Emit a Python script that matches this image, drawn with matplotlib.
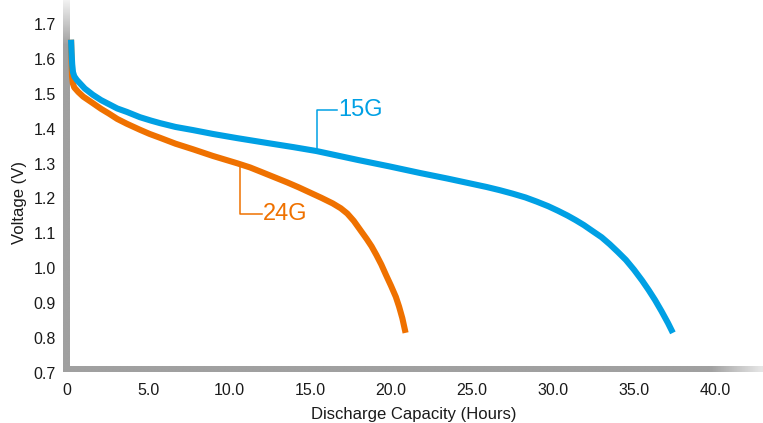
import numpy as np
import matplotlib
matplotlib.use('Agg')
import matplotlib.pyplot as plt

plt.rcParams['font.family'] = ['Liberation Sans', 'DejaVu Sans']

# discharge curves (hours, volts)
hours_15g = [0.25, 0.28, 0.32, 0.37, 0.45, 0.6, 0.8, 1.1, 1.6, 2.1, 2.6, 3.1, 3.7, 4.5, 5.2, 5.74,
             6.7, 7.78, 9.0, 10.5, 12.5, 14.0, 15.4, 16.7, 18.0, 19.9, 21.8, 23.5, 25.9, 26.7,
             27.5, 28.3, 29.0, 29.7, 30.3, 30.9, 31.4, 31.9, 32.4, 33.0, 33.5, 34.0, 34.5, 35.0,
             35.5, 35.9, 36.3, 36.7, 37.1, 37.4]
volts_15g = [1.655, 1.62, 1.585, 1.562, 1.55, 1.54, 1.53, 1.515, 1.497, 1.482, 1.47, 1.458, 1.448,
             1.433, 1.423, 1.416, 1.405, 1.396, 1.385, 1.373, 1.358, 1.347, 1.336, 1.323, 1.31,
             1.292, 1.273, 1.257, 1.233, 1.224, 1.214, 1.203, 1.191, 1.178, 1.165, 1.151, 1.138,
             1.124, 1.108, 1.089, 1.069, 1.047, 1.024, 0.996, 0.965, 0.938, 0.909, 0.877, 0.843,
             0.815]

hours_24g = [0.25, 0.28, 0.31, 0.36, 0.45, 0.7, 1.0, 1.6, 2.1, 2.6, 3.1, 3.7, 4.5, 5.1, 5.74,
             6.7, 7.78, 9.0, 10.5, 11.3, 12.0, 12.8, 13.6, 14.3, 15.0, 15.7, 16.4, 16.9, 17.3,
             17.7, 18.1, 18.5, 18.8, 19.1, 19.4, 19.7, 20.0, 20.3, 20.5, 20.7, 20.9]
volts_24g = [1.655, 1.6, 1.55, 1.53, 1.518, 1.505, 1.492, 1.473, 1.457, 1.443, 1.428, 1.414,
             1.397, 1.385, 1.374, 1.357, 1.341, 1.322, 1.301, 1.289, 1.276, 1.261, 1.246, 1.232,
             1.217, 1.202, 1.186, 1.172, 1.157, 1.136, 1.11, 1.084, 1.063, 1.038, 1.011, 0.98,
             0.95, 0.918, 0.89, 0.857, 0.815]

x_ticks = [0, 5, 10, 15, 20, 25, 30, 35, 40]
x_ticklabels = ['0', '5.0', '10.0', '15.0', '20.0', '25.0', '30.0', '35.0', '40.0']
y_ticks = [0.7, 0.8, 0.9, 1.0, 1.1, 1.2, 1.3, 1.4, 1.5, 1.6, 1.7]

BLUE = '#00a0e4'
ORANGE = '#ef7100'
GRAY = np.array([160, 160, 160]) / 255.0

W, H = 763, 423
fig = plt.figure(figsize=(W / 100, H / 100), dpi=100)
ax = fig.add_axes([67 / W, 50 / H, (W - 67) / W, 373 / H])

ax.plot(hours_24g, volts_24g, color=ORANGE, lw=4.4, solid_capstyle='butt', solid_joinstyle='round', zorder=3)
ax.plot(hours_15g, volts_15g, color=BLUE, lw=4.4, solid_capstyle='butt', solid_joinstyle='round', zorder=4)

# leader lines with the labels
ax.plot([15.43, 15.43, 16.67], [1.336, 1.454, 1.454], color=BLUE, lw=1.1, zorder=2)
ax.text(16.75, 1.454, '15G', color=BLUE, fontsize=17, va='center', ha='left')
ax.plot([10.68, 10.68, 12.04], [1.296, 1.156, 1.156], color=ORANGE, lw=1.1, zorder=2)
ax.text(12.12, 1.156, '24G', color=ORANGE, fontsize=17, va='center', ha='left')

ax.set_xlim(0, (W - 67) / 16.2)
ax.set_ylim(0.7, 0.7 + 373 / 349)
ax.set_xticks(x_ticks)
ax.set_xticklabels(x_ticklabels)
ax.set_yticks(y_ticks)
ax.set_yticklabels([f'{v:.1f}' for v in y_ticks])
ax.tick_params(length=0, labelsize=11.5, labelcolor='#1a1a1a')
ax.tick_params(axis='y', pad=8)
ax.tick_params(axis='x', pad=7)
for s in ax.spines.values():
    s.set_visible(False)
ax.patch.set_alpha(0)

ax.set_xlabel('Discharge Capacity (Hours)', fontsize=12, color='#1a1a1a')
ax.set_ylabel('Voltage (V)', fontsize=12, color='#1a1a1a')
ax.xaxis.set_label_coords(0.4986, -0.092)
ax.yaxis.set_label_coords(-0.058, 0.458)

# faded gray axis bars
def gradient_bar(rect, ramp, vertical):
    bar = fig.add_axes(rect, zorder=-1)
    white = np.array([0.95, 0.95, 0.95])
    cols = white[None, :] * (1 - ramp[:, None]) + GRAY[None, :] * ramp[:, None]
    img = cols[:, None, :] if vertical else cols[None, :, :]
    bar.imshow(img, aspect='auto', interpolation='bilinear')
    bar.set_axis_off()

n = 200
ramp_left = np.clip(np.linspace(0, 372, n) / 45.0, 0, 1)
gradient_bar([63 / W, (H - 372) / H, 7 / W, 372 / H], ramp_left, True)
px = np.linspace(63, 763, n)
ramp_bottom = np.clip(1 - (px - 712) / 60.0, 0.1, 1)
gradient_bar([63 / W, (H - 372) / H, (W - 63) / W, 6 / H], ramp_bottom, False)

fig.savefig('out.png', dpi=100)
